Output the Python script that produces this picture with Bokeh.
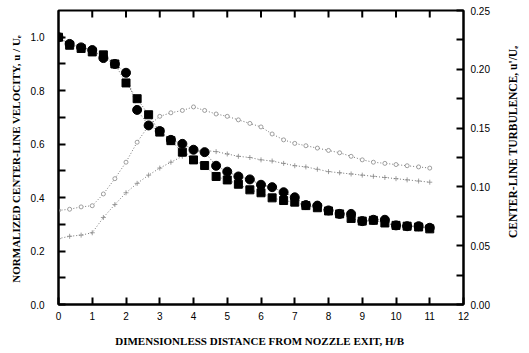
import math
from bokeh.plotting import figure
from bokeh.layouts import row
from bokeh.models import Range1d, LinearAxis, FixedTicker, ColumnDataSource, NumeralTickFormatter, Label
from bokeh.embed import file_html
from bokeh.resources import INLINE

# Dimensionless distance H/B
x = [0.0, 0.33, 0.67, 1.0, 1.33, 1.67, 2.0, 2.33, 2.67, 3.0, 3.33, 3.67, 4.0, 4.33,
     4.67, 5.0, 5.33, 5.67, 6.0, 6.33, 6.67, 7.0, 7.33, 7.67, 8.0, 8.33, 8.67, 9.0,
     9.33, 9.67, 10.0, 10.33, 10.67, 11.0]

# Normalized center-line velocity (left axis)
vel_circle = [1.00, 0.975, 0.962, 0.952, 0.922, 0.900, 0.867, 0.728, 0.670, 0.649,
              0.616, 0.601, 0.579, 0.570, 0.519, 0.497, 0.479, 0.468, 0.448, 0.439,
              0.420, 0.401, 0.372, 0.370, 0.352, 0.339, 0.339, 0.312, 0.317, 0.317,
              0.296, 0.293, 0.293, 0.287]
vel_square = [1.00, 0.970, 0.958, 0.945, 0.934, 0.900, 0.829, 0.770, 0.710, 0.645,
              0.613, 0.570, 0.541, 0.520, 0.479, 0.466, 0.450, 0.429, 0.418, 0.399,
              0.389, 0.383, 0.370, 0.362, 0.350, 0.339, 0.322, 0.312, 0.315, 0.305,
              0.296, 0.293, 0.290, 0.283]

# Center-line turbulence (right axis)
turb_upper = [0.080, 0.081, 0.083, 0.084, 0.094, 0.107, 0.121, 0.138, 0.152, 0.160,
              0.163, 0.165, 0.168, 0.165, 0.162, 0.160, 0.157, 0.154, 0.151, 0.145,
              0.140, 0.137, 0.135, 0.133, 0.131, 0.129, 0.126, 0.123, 0.121, 0.120,
              0.119, 0.118, 0.117, 0.116]
turb_lower = [0.056, 0.058, 0.059, 0.061, 0.074, 0.085, 0.095, 0.103, 0.110, 0.116,
              0.121, 0.126, 0.130, 0.131, 0.130, 0.128, 0.126, 0.125, 0.123, 0.122,
              0.120, 0.118, 0.117, 0.115, 0.113, 0.112, 0.111, 0.110, 0.109, 0.108,
              0.107, 0.106, 0.105, 0.104]

x_ticks = list(range(0, 13))
top_ticks = list(range(1, 12))
left_ticks = [0.0, 0.2, 0.4, 0.6, 0.8, 1.0]
left_minor = [0.1, 0.3, 0.5, 0.7, 0.9]
right_ticks = [0.00, 0.05, 0.10, 0.15, 0.20, 0.25]
right_minor = [0.025, 0.075, 0.125, 0.175, 0.225]

X0, X1 = 0, 12
Y0, Y1 = 0, 1.1
T0, T1 = 0, 0.25

W_TOTAL, H = 529, 353
W = 495                     # main figure
W2 = W_TOTAL - W            # narrow strip holding the right-hand title
BL, BR, BT, BB = 58, W - 463, 10, 49
FW, FH = W - BL - BR, H - BT - BB
TICK = 7
dy = (Y1 - Y0) * TICK / FH

src = ColumnDataSource(dict(x=x, vc=vel_circle, vs=vel_square, tu=turb_upper, tl=turb_lower))

TITLE_FONT = "Liberation Serif"
TICK_FONT = "Liberation Sans Narrow, Liberation Sans"

p = figure(width=W, height=H, output_backend="svg", toolbar_location=None,
           x_range=Range1d(X0, X1), y_range=Range1d(Y0, Y1),
           min_border_left=BL, min_border_right=BR, min_border_top=BT, min_border_bottom=BB)
p.extra_y_ranges = {"turb": Range1d(T0, T1)}
p.xgrid.visible = False
p.ygrid.visible = False
p.background_fill_color = "white"
p.border_fill_color = "white"
p.outline_line_color = "black"
p.outline_line_width = 2

def style_axis(ax):
    ax.axis_line_color = "black"
    ax.axis_line_width = 2
    ax.major_tick_in = TICK
    ax.major_tick_out = 0
    ax.minor_tick_in = TICK
    ax.minor_tick_out = 0
    ax.major_tick_line_color = "black"
    ax.minor_tick_line_color = "black"
    ax.major_tick_line_width = 2
    ax.minor_tick_line_width = 2
    ax.major_label_text_font = TICK_FONT
    ax.major_label_text_font_size = "10px"
    ax.major_label_text_color = "black"
    ax.axis_label_text_font = TITLE_FONT
    ax.axis_label_text_font_style = "bold"
    ax.axis_label_text_font_size = "11px"
    ax.axis_label_text_color = "black"

xa = p.xaxis[0]
style_axis(xa)
xa.ticker = FixedTicker(ticks=x_ticks, minor_ticks=[])
xa.axis_label = "DIMENSIONLESS DISTANCE FROM NOZZLE EXIT,  H/B"
xa.major_label_standoff = 7
xa.axis_label_standoff = 12

ya = p.yaxis[0]
style_axis(ya)
ya.ticker = FixedTicker(ticks=left_ticks, minor_ticks=left_minor)
ya.formatter = NumeralTickFormatter(format="0.0")
ya.axis_label = "NORMALIZED CENTER-LINE VELOCITY,  u / Uₑ"
ya.major_label_standoff = 14
ya.axis_label_standoff = 6

ra = LinearAxis(y_range_name="turb")
style_axis(ra)
ra.ticker = FixedTicker(ticks=right_ticks, minor_ticks=right_minor)
ra.formatter = NumeralTickFormatter(format="0.00")
ra.major_label_standoff = 7
p.add_layout(ra, "right")

# Inward ticks along the top edge
p.segment(x0=top_ticks, y0=[Y1] * len(top_ticks), x1=top_ticks, y1=[Y1 - dy] * len(top_ticks),
          line_color="black", line_width=2)

# Turbulence series (faint dotted lines with small open markers)
p.line("x", "tu", source=src, y_range_name="turb", line_color="#777777", line_width=1, line_dash="1 2")
p.scatter("x", "tu", source=src, y_range_name="turb", marker="circle", size=4,
          fill_color="white", line_color="#888888", line_width=0.8)
p.line("x", "tl", source=src, y_range_name="turb", line_color="#777777", line_width=1, line_dash="1 2")
p.scatter("x", "tl", source=src, y_range_name="turb", marker="cross", size=5,
          line_color="#888888", line_width=0.8)

# Velocity series
p.line("x", "vs", source=src, line_color="#666666", line_width=1, line_dash="1 2")
p.line("x", "vc", source=src, line_color="#666666", line_width=1, line_dash="1 2")
p.scatter("x", "vs", source=src, marker="square", size=8, fill_color="black", line_color="black")
p.scatter("x", "vc", source=src, marker="circle", size=9, fill_color="black", line_color="black")

# Narrow strip with the right-hand axis title, reading bottom to top
p2 = figure(width=W2, height=H, output_backend="svg", toolbar_location=None,
            x_range=Range1d(0, W2), y_range=Range1d(0, H),
            min_border_left=0, min_border_right=0, min_border_top=0, min_border_bottom=0)
p2.axis.visible = False
p2.grid.visible = False
p2.outline_line_color = None
p2.background_fill_color = "white"
p2.border_fill_color = "white"
p2.add_layout(Label(x=17, y=H - 156, text="CENTER-LINE TURBULENCE,  u'/Uₑ", angle=math.pi / 2,
                    text_align="center", text_baseline="middle", text_font=TITLE_FONT,
                    text_font_style="bold", text_font_size="11.5px", text_color="black"))

layout = row(p, p2)
open("out.html", "w").write(file_html(layout, INLINE))
